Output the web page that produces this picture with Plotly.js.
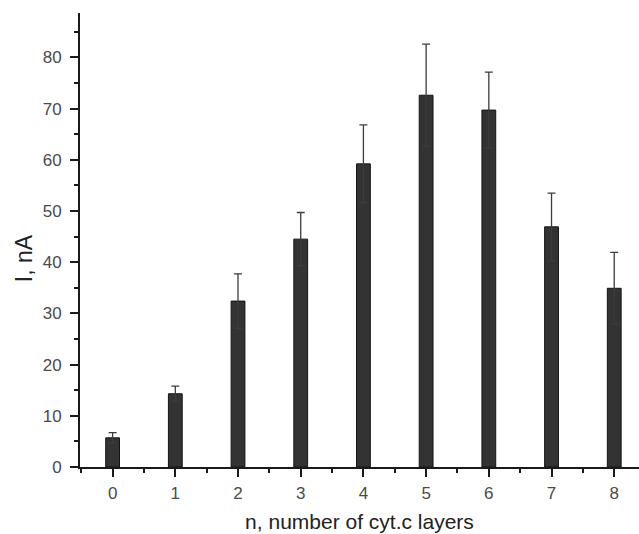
<!DOCTYPE html>
<html>
<head>
<meta charset="utf-8">
<script src="https://cdn.plot.ly/plotly-3.0.1.min.js"></script>
<style>
  html, body { margin: 0; padding: 0; background: #fff; }
  #chart { width: 639px; height: 534px; }
</style>
</head>
<body>
<div id="chart"></div>
<script>
// Number of cytochrome c layers and the measured current (nA) with its error
const layers = [0, 1, 2, 3, 4, 5, 6, 7, 8];
const currentNA = [5.7, 14.3, 32.4, 44.5, 59.2, 72.6, 69.7, 46.9, 34.9];
const errorNA = [1.0, 1.5, 5.3, 5.2, 7.6, 10.0, 7.4, 6.6, 7.0];
const xTickLabels = ['0', '1', '2', '3', '4', '5', '6', '7', '8'];

const family = 'Liberation Sans, Arial, sans-serif';
const tickFont = { family: family, size: 17, color: '#4a4a4a' };

const trace = {
  type: 'bar',
  x: layers,
  y: currentNA,
  width: 0.22,
  marker: { color: '#333333', line: { color: '#141414', width: 1 } },
  error_y: {
    type: 'data',
    array: errorNA,
    visible: true,
    color: '#3c3c3c',
    thickness: 1.3,
    width: 4
  },
  hoverinfo: 'x+y'
};

const layout = {
  width: 639,
  height: 534,
  margin: { l: 80, r: 0, t: 13, b: 67 },
  paper_bgcolor: '#ffffff',
  plot_bgcolor: '#ffffff',
  showlegend: false,
  font: tickFont,
  xaxis: {
    range: [-0.52, 8.395],
    tickmode: 'array',
    tickvals: layers,
    ticktext: xTickLabels,
    showgrid: false,
    zeroline: false,
    showline: true,
    linecolor: '#1a1a1a',
    linewidth: 2,
    ticks: 'outside',
    ticklen: 8,
    tickwidth: 2,
    tickcolor: '#1a1a1a',
    tickfont: tickFont,
    ticklabelstandoff: 2,
    minor: { tickmode: 'linear', tick0: 0.5, dtick: 1, ticks: 'outside', ticklen: 4, tickwidth: 2, tickcolor: '#1a1a1a' },
    title: { text: 'n, number of cyt.c layers', font: { family: family, size: 21, color: '#222222' }, standoff: 12 }
  },
  yaxis: {
    range: [0, 88.66],
    tickmode: 'linear',
    tick0: 0,
    dtick: 10,
    showgrid: false,
    zeroline: false,
    showline: true,
    linecolor: '#1a1a1a',
    linewidth: 2,
    ticks: 'outside',
    ticklen: 8,
    tickwidth: 2,
    tickcolor: '#1a1a1a',
    tickfont: tickFont,
    ticklabelstandoff: 5,
    minor: { tickmode: 'linear', tick0: 5, dtick: 10, ticks: 'outside', ticklen: 4, tickwidth: 2, tickcolor: '#1a1a1a' }
  },
  // y-axis label placed as a rotated annotation, sitting a little below the axis middle
  annotations: [{
    text: 'I, nA',
    xref: 'paper', yref: 'paper',
    x: -0.1, y: 0.46,
    xanchor: 'center', yanchor: 'middle',
    textangle: -90,
    showarrow: false,
    font: { family: family, size: 23, color: '#222222' }
  }]
};

Plotly.newPlot('chart', [trace], layout, { displayModeBar: false, staticPlot: true });
</script>
</body>
</html>
